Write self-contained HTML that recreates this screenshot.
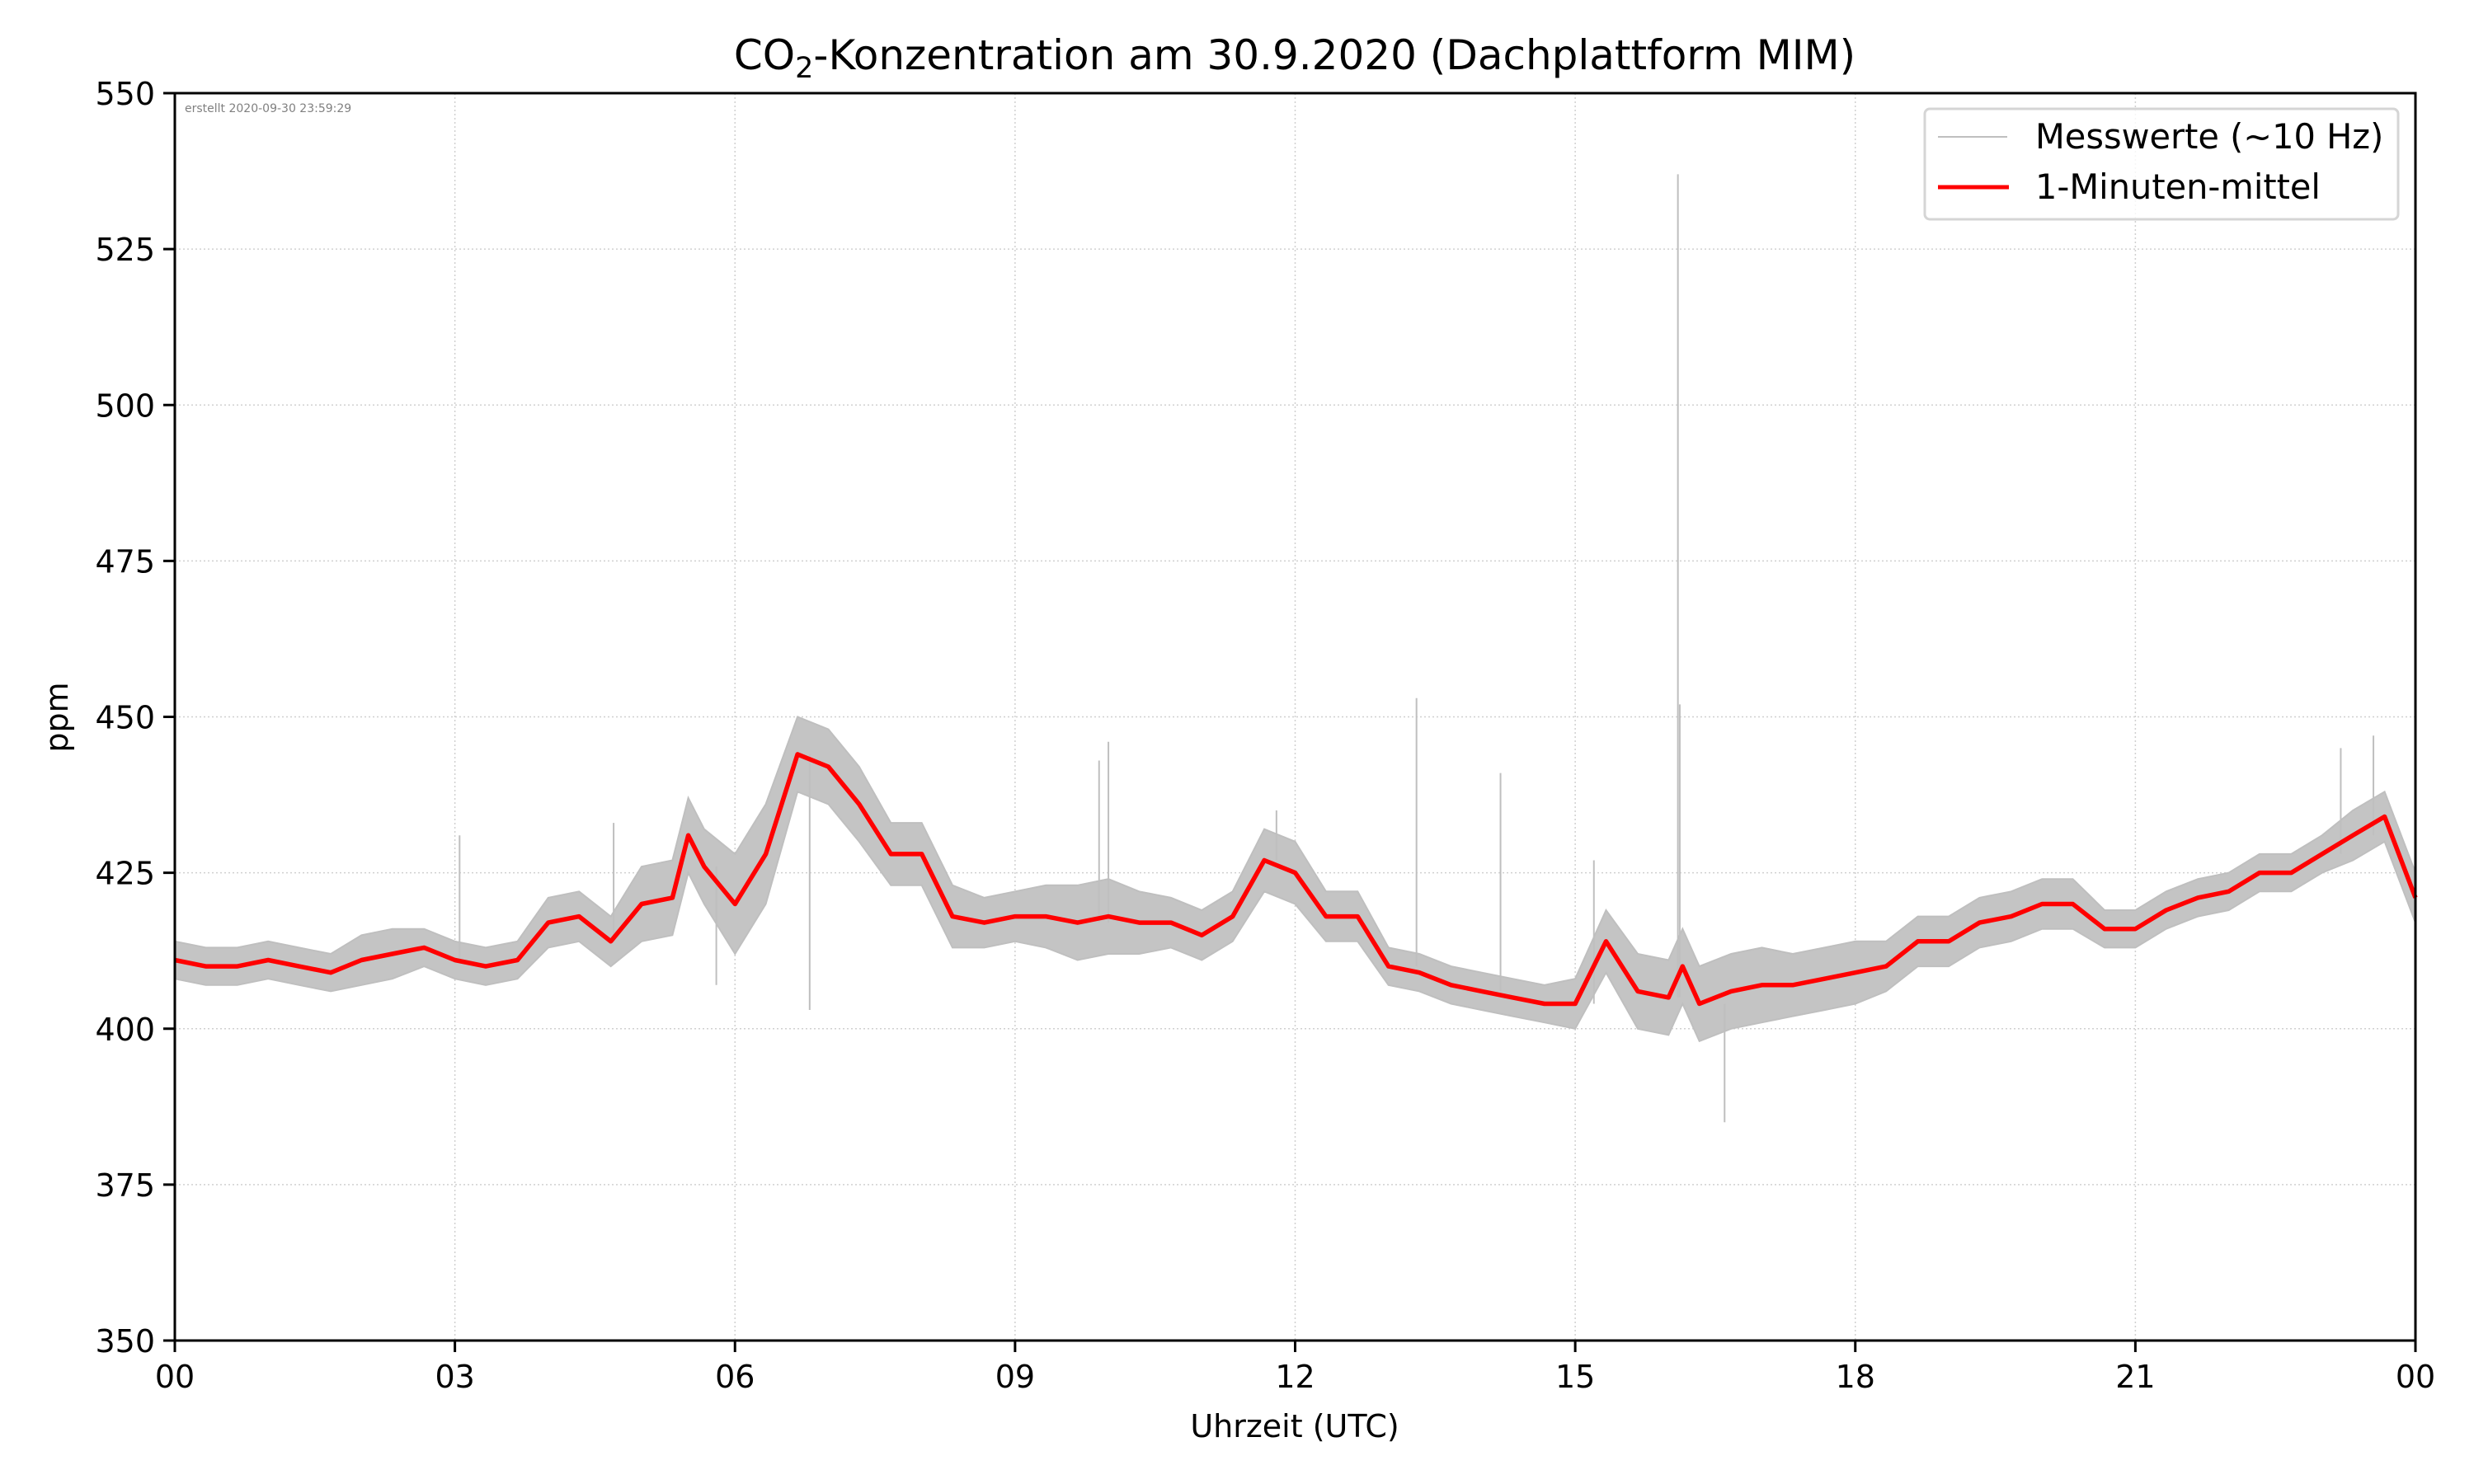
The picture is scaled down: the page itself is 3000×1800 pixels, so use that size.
<!DOCTYPE html>
<html><head><meta charset="utf-8"><style>
html,body{margin:0;padding:0;background:#fff}
svg{display:block;font-family:"DejaVu Sans","Liberation Sans",sans-serif}
</style></head><body>
<svg id="chart" width="3000" height="1800" viewBox="0 0 3000 1800" xmlns="http://www.w3.org/2000/svg">
<rect x="0" y="0" width="3000" height="1800" fill="#fff"/>
<g id="grid"></g>
<g id="series"></g>
<g id="axes"></g>
<text x="1570" y="84" font-size="50" text-anchor="middle">CO<tspan font-size="35" dy="10">2</tspan><tspan dy="-10">-Konzentration am 30.9.2020 (Dachplattform MIM)</tspan></text>
<text x="224" y="136" font-size="14" fill="#808080">erstellt 2020-09-30 23:59:29</text>
<text transform="translate(82,870) rotate(-90)" font-size="38" text-anchor="middle">ppm</text>
<text x="1570" y="1743" font-size="38" text-anchor="middle">Uhrzeit (UTC)</text>
<g>
<rect x="2334" y="132" width="574" height="134" rx="6" fill="#fff" fill-opacity="0.8" stroke="#d5d5d5" stroke-width="3"/>
<line x1="2350" y1="166" x2="2434" y2="166" stroke="#bfbfbf" stroke-width="2"/>
<text x="2468" y="180" font-size="41.5">Messwerte (~10 Hz)</text>
<line x1="2350" y1="227" x2="2436" y2="227" stroke="#ff0000" stroke-width="5"/>
<text x="2468" y="241" font-size="41.5">1-Minuten-mittel</text>
</g>
</svg>
<script>
const times=[0,0.33,0.67,1,1.33,1.67,2,2.33,2.67,3,3.33,3.67,4,4.33,4.67,5,5.33,5.5,5.67,6,6.33,6.67,7,7.33,7.67,8,8.33,8.67,9,9.33,9.67,10,10.33,10.67,11,11.33,11.67,12,12.33,12.67,13,13.33,13.67,14,14.33,14.67,15,15.33,15.67,16,16.15,16.33,16.67,17,17.33,17.67,18,18.33,18.67,19,19.33,19.67,20,20.33,20.67,21,21.33,21.67,22,22.33,22.67,23,23.33,23.67,24];
const meanValues=[411,410,410,411,410,409,411,412,413,411,410,411,417,418,414,420,421,431,426,420,428,444,442,436,428,428,418,417,418,418,417,418,417,417,415,418,427,425,418,418,410,409,407,406,405,404,404,414,406,405,410,404,406,407,407,408,409,410,414,414,417,418,420,420,416,416,419,421,422,425,425,428,431,434,421];
const spreadValues=[3,3,3,3,3,3,4,4,3,3,3,3,4,4,4,6,6,6,6,8,8,6,6,6,5,5,5,4,4,5,6,6,5,4,4,4,5,5,4,4,3,3,3,3,3,3,4,5,6,6,6,6,6,6,5,5,5,4,4,4,4,4,4,4,3,3,3,3,3,3,3,3,4,4,4];
const spikeTimes=[16.1,16.12,13.3,14.2,10.0,9.9,16.6,23.55,23.2,3.05,4.7,6.8,5.8,11.8,15.2];
const spikeValues=[537,452,453,441,446,443,385,447,445,431,433,403,407,435,427];
const yTicks=[350,375,400,425,450,475,500,525,550];
const xTicks=[0,3,6,9,12,15,18,21,24];
const xTickLabels=["00","03","06","09","12","15","18","21","00"];

const L=212,R=2929,T=113,B=1626;
const X=h=>L+(R-L)*h/24;
const Y=v=>B-(B-T)*(v-350)/200;
const NS="http://www.w3.org/2000/svg";
function mk(tag,parent,attrs){const e=document.createElementNS(NS,tag);for(const k in attrs)e.setAttribute(k,attrs[k]);parent.appendChild(e);return e;}
const grid=document.getElementById('grid'),axes=document.getElementById('axes'),series=document.getElementById('series');

yTicks.forEach(v=>{
  const g=mk('line',grid,{x1:L,x2:R,y1:Y(v),y2:Y(v),stroke:'#d0d0d0','stroke-width':1.5,'stroke-dasharray':'2 3'});
  
  
  const t=mk('line',axes,{x1:L-14,x2:L,y1:Y(v),y2:Y(v),stroke:'#000','stroke-width':3});
  
  
  const tx=mk('text',axes,{x:L-24,y:Y(v)+14,'font-size':38,'text-anchor':'end'});
  tx.textContent=v;
  
  
});
xTicks.forEach((h,i)=>{
  const g=mk('line',grid,{x1:X(h),x2:X(h),y1:T,y2:B,stroke:'#d0d0d0','stroke-width':1.5,'stroke-dasharray':'2 3'});
  
  
  const t=mk('line',axes,{x1:X(h),x2:X(h),y1:B,y2:B+14,stroke:'#000','stroke-width':3});
  
  
  const tx=mk('text',axes,{x:X(h),y:B+57,'font-size':38,'text-anchor':'middle'});
  tx.textContent=xTickLabels[i];
  
  
});

let up=times.map((h,i)=>X(h).toFixed(1)+','+Y(meanValues[i]+spreadValues[i]).toFixed(1));
let dn=times.map((h,i)=>X(h).toFixed(1)+','+Y(meanValues[i]-spreadValues[i]).toFixed(1)).reverse();
const band=mk('polygon',series,{points:up.concat(dn).join(' '),fill:'#c4c4c4',stroke:'#bfbfbf','stroke-width':2});


spikeTimes.forEach((h,i)=>{
  let j=0;while(j<times.length-1&&times[j+1]<h)j++;
  const base=meanValues[j];
  const s=mk('line',series,{x1:X(h),x2:X(h),y1:Y(base),y2:Y(spikeValues[i]),stroke:'#bfbfbf','stroke-width':2});
  
  
});
const mean=mk('polyline',series,{points:times.map((h,i)=>X(h).toFixed(1)+','+Y(meanValues[i]).toFixed(1)).join(' '),fill:'none',stroke:'#ff0000','stroke-width':5.5,'stroke-linejoin':'round'});



const frame=mk('rect',axes,{x:L,y:T,width:R-L,height:B-T,fill:'none',stroke:'#000','stroke-width':3});


</script>
</body></html>
